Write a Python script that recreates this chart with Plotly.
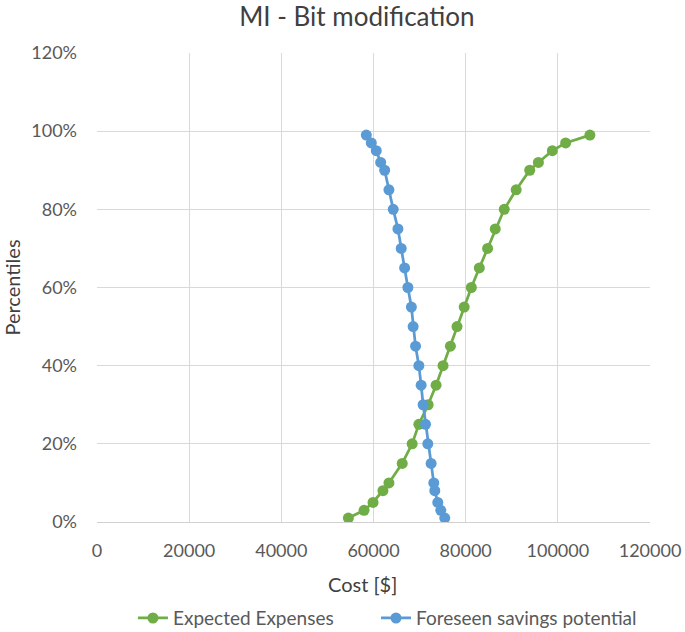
import plotly.graph_objects as go

percentiles = [1, 3, 5, 8, 10, 15, 20, 25, 30, 35, 40, 45, 50, 55, 60, 65, 70, 75, 80, 85, 90, 92, 95, 97, 99]
expected_expenses = [54550, 57950, 59900, 62050, 63350, 66230, 68390, 69840, 71850, 73580, 75090, 76690,
                     78120, 79680, 81230, 82960, 84760, 86420, 88370, 90960, 93900, 95780, 98810, 101690, 106960]
foreseen_savings = [75460, 74600, 73950, 73300, 73080, 72500, 71780, 71290, 70770, 70340, 69840, 69120,
                    68600, 68220, 67460, 66750, 66010, 65300, 64280, 63350, 62420, 61560, 60600, 59520, 58440]

y_vals = [p / 100 for p in percentiles]
font_family = "Lato, 'Open Sans', sans-serif"

fig = go.Figure()
fig.add_trace(go.Scatter(x=expected_expenses, y=y_vals, mode="lines+markers", name="Expected Expenses",
                         line=dict(color="#70AD47", width=2.75), marker=dict(color="#70AD47", size=11),
                         legend="legend"))
fig.add_trace(go.Scatter(x=foreseen_savings, y=y_vals, mode="lines+markers", name="Foreseen savings potential",
                         line=dict(color="#5B9BD5", width=2.75), marker=dict(color="#5B9BD5", size=11),
                         legend="legend2"))

legend_style = dict(orientation="h", xanchor="left", y=-0.205, yanchor="middle",
                    font=dict(size=19, color="#595959"), bgcolor="rgba(0,0,0,0)")

fig.update_layout(
    width=685, height=632,
    margin=dict(l=97, r=35, t=53, b=110, autoexpand=False),
    paper_bgcolor="white", plot_bgcolor="white",
    font=dict(family=font_family, color="#595959", size=18),
    title=dict(text="MI - Bit modification", x=0.521, xanchor="center", y=0.973, yanchor="middle",
               font=dict(size=26, color="#404040", family=font_family)),
    xaxis=dict(range=[0, 120000], dtick=20000, tickformat="d", showgrid=True, gridcolor="#D9D9D9",
               gridwidth=1.3, zeroline=False, showline=True, linecolor="#D0D0D0", linewidth=1.3,
               ticks="", ticklabelstandoff=12, automargin=False),
    yaxis=dict(range=[0, 1.2], dtick=0.2, tickformat=".0%", showgrid=True, gridcolor="#D9D9D9",
               gridwidth=1.3, zeroline=False, showline=False, ticks="", ticklabelstandoff=19,
               automargin=False,
               title=dict(text="Percentiles", font=dict(size=20, color="#404040"), standoff=17)),
    legend=dict(x=0.065, **legend_style),
    legend2=dict(x=0.5045, **legend_style),
    showlegend=True,
    annotations=[dict(text="Cost [$]", xref="paper", yref="paper", x=0.48, y=-0.132,
                      xanchor="center", yanchor="middle", showarrow=False,
                      font=dict(size=20, color="#404040", family=font_family))],
)

fig.write_html("out.html", config={"displayModeBar": False},
               post_script="document.body.style.margin='0px';")
